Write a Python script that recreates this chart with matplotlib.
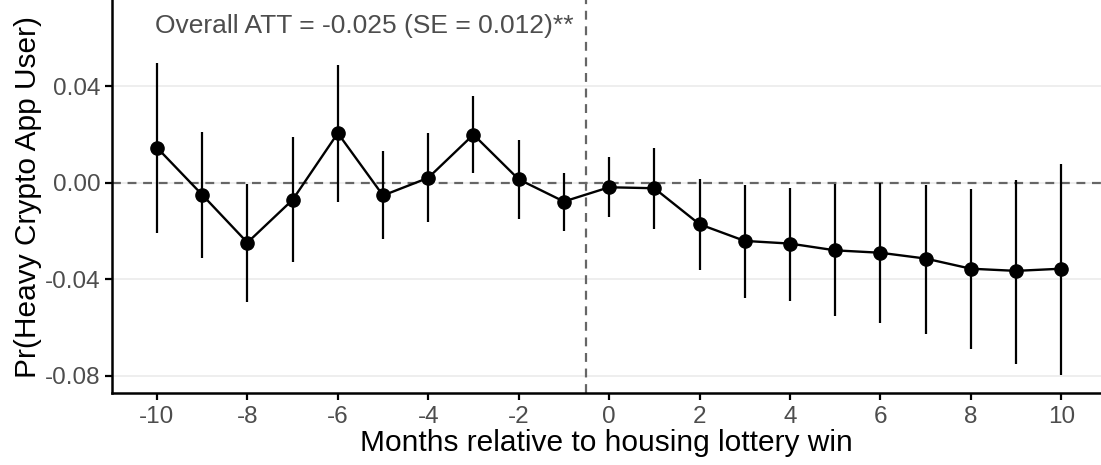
import numpy as np
import matplotlib
matplotlib.use("Agg")
import matplotlib.pyplot as plt

plt.rcParams['font.family'] = ['Liberation Sans', 'DejaVu Sans']

# event-study estimates by month relative to the lottery win
months = [-10, -9, -8, -7, -6, -5, -4, -3, -2, -1, 0, 1, 2, 3, 4, 5, 6, 7, 8, 9, 10]
estimate = [0.0145, -0.0050, -0.0248, -0.0071, 0.0205, -0.0053, 0.0020, 0.0199, 0.0014, -0.0078,
            -0.0019, -0.0023, -0.0172, -0.0241, -0.0252, -0.0280, -0.0290, -0.0314, -0.0356, -0.0365, -0.0356]
ci_low = [-0.0207, -0.0310, -0.0494, -0.0328, -0.0081, -0.0234, -0.0163, 0.0038, -0.0149, -0.0199,
          -0.0142, -0.0191, -0.0363, -0.0476, -0.0490, -0.0552, -0.0579, -0.0625, -0.0690, -0.0752, -0.0796]
ci_high = [0.0496, 0.0209, -0.0005, 0.0188, 0.0489, 0.0130, 0.0206, 0.0358, 0.0175, 0.0042,
           0.0106, 0.0143, 0.0014, -0.0010, -0.0020, -0.0007, -0.0003, -0.0010, -0.0027, 0.0011, 0.0079]

att_label = "Overall ATT = -0.025 (SE = 0.012)**"
x_ticks = [-10, -8, -6, -4, -2, 0, 2, 4, 6, 8, 10]
y_ticks = [-0.08, -0.04, 0.00, 0.04]

fig = plt.figure(figsize=(11.01, 4.65), dpi=100)
ax = fig.add_axes([0.1015, 0.154, 0.8985, 0.846])

ax.set_xlim(-11, 10.88)
ax.set_ylim(-0.0872, 0.0756)

ax.set_yticks(y_ticks)
ax.set_yticklabels(["%.2f" % v for v in y_ticks])
ax.set_xticks(x_ticks)
ax.set_xticklabels([str(v) for v in x_ticks])
ax.grid(axis='y', color='#EBEBEB', linewidth=1.2, zorder=0)
ax.set_axisbelow(True)

# reference lines
ax.axhline(0, color='#666666', linestyle=(0, (4, 3)), linewidth=1.6, zorder=1)
ax.axvline(-0.5, color='#666666', linestyle=(0, (4, 3)), linewidth=1.6, zorder=1)

# confidence intervals, then points joined by a line
ax.vlines(months, ci_low, ci_high, color='black', linewidth=1.6, zorder=2)
ax.plot(months, estimate, color='black', linewidth=1.7, zorder=3)
ax.plot(months, estimate, 'o', color='black', markersize=9.5, zorder=4)

ax.text(-10.05, 0.0648, att_label, ha='left', va='center', fontsize=19, color='#4D4D4D')

for side in ['top', 'right']:
    ax.spines[side].set_visible(False)
for side in ['left', 'bottom']:
    ax.spines[side].set_linewidth(1.8)
    ax.spines[side].set_color('black')

ax.tick_params(axis='both', colors='black', labelcolor='#4D4D4D', labelsize=17.5, length=5, width=1.6, pad=3)
ax.tick_params(axis='x', pad=4)
ax.set_xlabel("Months relative to housing lottery win", fontsize=21.5, color='black', labelpad=1)
ax.set_ylabel("Pr(Heavy Crypto App User)", fontsize=21.5, color='black', labelpad=2)

fig.savefig("out.png", dpi=100)
